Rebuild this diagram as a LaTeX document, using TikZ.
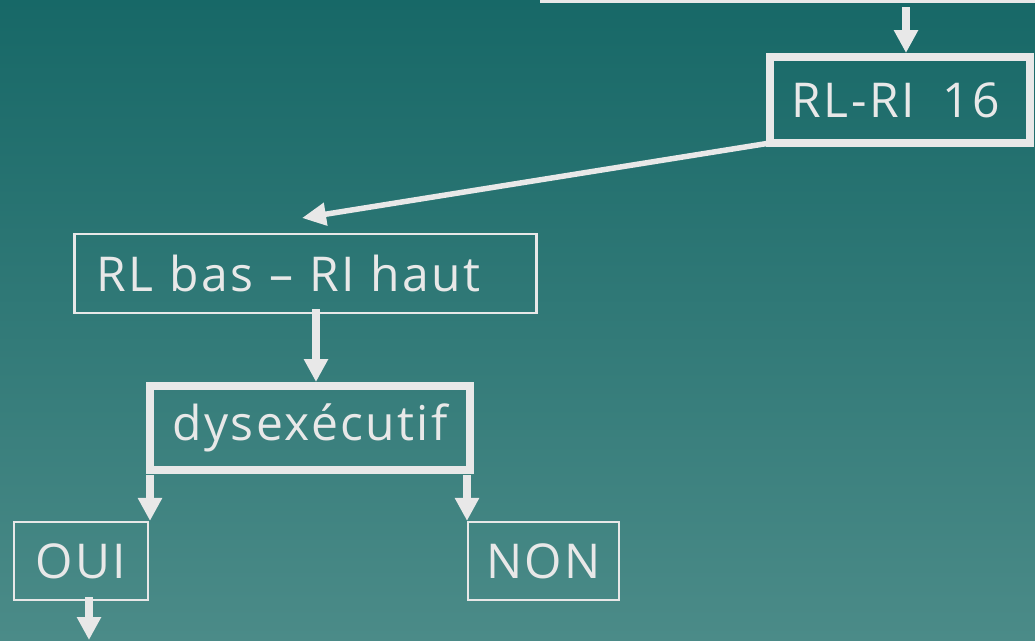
\documentclass[tikz,border=0pt]{standalone}
\usepackage{fontspec}
\setmainfont{Open Sans}[LetterSpace=5,WordSpace=1.9]
\usetikzlibrary{arrows.meta,calc}
\definecolor{bgtop}{RGB}{23,104,103}
\definecolor{bgbot}{RGB}{75,139,136}
\definecolor{ink}{RGB}{232,232,232}
\tikzset{
  thinbox/.style={draw=ink, line width=2.2pt, text=ink, inner sep=0pt, font=\fontsize{48}{52}\selectfont},
  thickbox/.style={draw=ink, line width=8pt, text=ink, inner sep=0pt, font=\fontsize{48}{52}\selectfont},
  arr/.style={draw=ink, line width=7.5pt, -{Triangle[width=23pt,length=23pt]}},
  darr/.style={draw=ink, line width=5.5pt, -{Triangle[width=22pt,length=24pt]}},
}
\begin{document}
\begin{tikzpicture}[x=1pt,y=-1pt]
\shade[top color=bgtop, bottom color=bgbot] (0,0) rectangle (1035,640);
\useasboundingbox (0,0) rectangle (1035,640);
% partially visible top box
\node[thinbox, line width=3pt, minimum width=520, minimum height=80] (topbox) at (801,-39) {};
\node[thickbox, minimum width=260, minimum height=86] (rl16) at (900,100) {\hspace*{-8pt}RL-RI 16};
\node[thinbox, minimum width=462, minimum height=79, text width=418, align=left] (rlbas) at (305.5,273.5) {RL bas -- RI haut};
\node[thickbox, minimum width=320, minimum height=84] (dys) at (310,428) {dysexécutif};
\node[thinbox, minimum width=134, minimum height=78] (oui) at (81,561) {OUI};
\node[thinbox, minimum width=151, minimum height=78] (non) at (543.5,561) {NON};
% connector end points
\coordinate (t1) at (906,7);
\coordinate (t2) at (906,53);
\coordinate (d2) at (302,218);
\coordinate (o1) at (89,597);
\coordinate (o2) at (89,640);
\draw[arr] (t1) -- (t2);
\draw[darr, line cap=butt] (rl16.south west) ++(4,-4) -- (d2);
\draw[arr] (rlbas.south -| 316,0) ++(0,-5) -- (dys.north -| 316,0);
\draw[arr] ($(dys.south -| 150,0)+(0,1)$) -- (oui.north -| 150,0);
\draw[arr] ($(dys.south -| 467,0)+(0,1)$) -- (non.north -| 467,0);
\draw[arr] (oui.south -| o1) ++(0,-4) -- (o2);
\end{tikzpicture}
\end{document}
